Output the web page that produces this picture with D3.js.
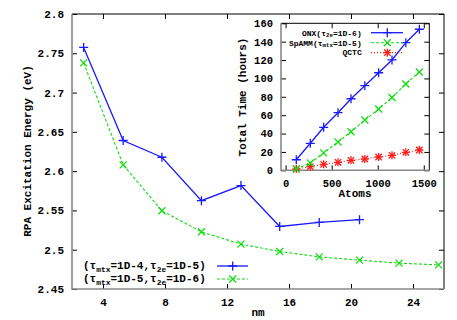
<!DOCTYPE html>
<html>
<head>
<meta charset="utf-8">
<title>RPA excitation energy</title>
<script src="https://cdn.jsdelivr.net/npm/d3@7"></script>
<style>
body { margin: 0; background: #fff; }
text { font-family: 'Liberation Mono', 'DejaVu Sans Mono', monospace; font-weight: bold; fill: #000; }
.tick line { stroke: #000; }
</style>
</head>
<body>
<script>
// main plot: excitation energy vs length
var nmX = [2.75, 5.3, 7.8, 10.35, 12.9, 15.4, 17.95, 20.55, 23.1, 25.65];
var onxE = [2.7575, 2.639, 2.6177, 2.5624, 2.5816, 2.5296, 2.5347, 2.5382];
var spammE = [2.7378, 2.608, 2.5495, 2.5228, 2.5071, 2.4977, 2.4909, 2.4867, 2.4829, 2.4807];
var mainXTicks = [4, 8, 12, 16, 20, 24];
var mainYTicks = [2.45, 2.5, 2.55, 2.6, 2.65, 2.7, 2.75, 2.8];

// inset: total time vs atoms
var atoms = [116, 268, 413, 569, 710, 860, 1010, 1155, 1305, 1452];
var onxT = [11.5, 29.4, 46.8, 62.7, 77.9, 92.1, 106.2, 120.1, 138.9, 153.5];
var spammT = [1.5, 8, 19, 30.8, 42, 54.7, 66.7, 79.2, 93.9, 107];
var qctcT = [1.4, 4, 6.5, 8.7, 10.9, 12.3, 14.5, 16.3, 19.6, 22.1];
var insetXTicks = [0, 500, 1000, 1500];
var insetYTicks = [0, 20, 40, 60, 80, 100, 120, 140, 160];

var blue = "#1a1aff", green = "#11dd11", red = "#ff1a1a";

var svg = d3.select("body").append("svg").attr("width", 457).attr("height", 320);

var x = d3.scaleLinear().domain([2, 26]).range([72, 444]);
var y = d3.scaleLinear().domain([2.45, 2.8]).range([289, 14]);

// markers
function plus(g, cx, cy, s, col) {
  g.append("path").attr("d", "M" + (cx - s) + "," + cy + "H" + (cx + s) + "M" + cx + "," + (cy - s) + "V" + (cy + s))
    .attr("stroke", col).attr("stroke-width", 1.3).attr("fill", "none");
}
function cross(g, cx, cy, s, col) {
  g.append("path").attr("d", "M" + (cx - s) + "," + (cy - s) + "L" + (cx + s) + "," + (cy + s) + "M" + (cx - s) + "," + (cy + s) + "L" + (cx + s) + "," + (cy - s))
    .attr("stroke", col).attr("stroke-width", 1.3).attr("fill", "none");
}
function star(g, cx, cy, s, col) {
  plus(g, cx, cy, s, col);
  cross(g, cx, cy, s * 0.8, col);
}

// border + inward mirrored ticks (gnuplot style)
function frame(g, xs, ys, xt, yt, xfmt, yfmt, fs) {
  var x0 = xs.range()[0], x1 = xs.range()[1], y0 = ys.range()[0], y1 = ys.range()[1];
  var ax = g.append("g").attr("transform", "translate(0," + y0 + ")")
    .call(d3.axisBottom(xs).tickValues(xt).tickSize(-5).tickPadding(9).tickFormat(xfmt));
  var axt = g.append("g").attr("transform", "translate(0," + y1 + ")")
    .call(d3.axisTop(xs).tickValues(xt).tickSize(-5).tickFormat(""));
  var ay = g.append("g").attr("transform", "translate(" + x0 + ",0)")
    .call(d3.axisLeft(ys).tickValues(yt).tickSize(-5).tickPadding(8).tickFormat(yfmt));
  var ayr = g.append("g").attr("transform", "translate(" + x1 + ",0)")
    .call(d3.axisRight(ys).tickValues(yt).tickSize(-5).tickFormat(""));
  [ax, axt, ay, ayr].forEach(function(a) {
    a.select(".domain").remove();
    a.selectAll("text").style("font-size", fs + "px").style("font-family", null);
  });
  g.append("path").attr("d", "M" + x0 + "," + y1 + "H" + x1 + "V" + y0).attr("stroke", "#000").attr("fill", "none");
  g.append("path").attr("d", "M" + x0 + "," + y1 + "V" + y0 + "H" + x1).attr("stroke", "#888").attr("stroke-width", 1.6).attr("fill", "none");
}

var main = svg.append("g");
frame(main, x, y, mainXTicks, mainYTicks, d3.format("d"), function(d) { return String(+d.toFixed(2)); }, 11);

main.append("text").attr("x", 258).attr("y", 316).attr("text-anchor", "middle").style("font-size", "11px").text("nm");
main.append("text").attr("transform", "translate(28,151) rotate(-90)").attr("text-anchor", "middle")
  .attr("dominant-baseline", "central").style("font-size", "11px").text("RPA Excitation Energy (eV)");

var lineMain = d3.line().x(function(d) { return x(d[0]); }).y(function(d) { return y(d[1]); });
var onxPts = onxE.map(function(v, i) { return [nmX[i], v]; });
var spPts = spammE.map(function(v, i) { return [nmX[i], v]; });
main.append("path").attr("d", lineMain(spPts)).attr("fill", "none").attr("stroke", green).attr("stroke-width", 1.1).attr("stroke-dasharray", "3,2");
main.append("path").attr("d", lineMain(onxPts)).attr("fill", "none").attr("stroke", blue).attr("stroke-width", 1.3);
onxPts.forEach(function(p) { plus(main, x(p[0]), y(p[1]), 4.5, blue); });
spPts.forEach(function(p) { cross(main, x(p[0]), y(p[1]), 3.5, green); });

// text with subscripts: parts = [{txt}, {sub, txt}, ...]
function tauLabel(g, tx, ty, anchor, fs, parts) {
  var t = g.append("text").attr("x", tx).attr("y", ty).attr("text-anchor", anchor)
    .attr("dominant-baseline", "central").style("font-size", fs + "px");
  parts.forEach(function(p) {
    if (p.sub) {
      t.append("tspan").attr("dy", fs * 0.3).style("font-size", (fs * 0.72) + "px").text(p.sub);
      t.append("tspan").attr("dy", -fs * 0.3).text(p.txt);
    } else {
      t.append("tspan").text(p.txt);
    }
  });
  return t;
}

// main legend
tauLabel(main, 83, 266, "start", 11, [{txt: "(τ"}, {sub: "mtx", txt: "=1D-4,τ"}, {sub: "2e", txt: "=1D-5)"}]);
tauLabel(main, 83, 279, "start", 11, [{txt: "(τ"}, {sub: "mtx", txt: "=1D-5,τ"}, {sub: "2e", txt: "=1D-6)"}]);
main.append("line").attr("x1", 217).attr("x2", 248).attr("y1", 266).attr("y2", 266).attr("stroke", blue).attr("stroke-width", 1.3);
plus(main, 232.7, 266, 4.5, blue);
main.append("line").attr("x1", 217).attr("x2", 248).attr("y1", 279).attr("y2", 279).attr("stroke", green).attr("stroke-width", 1.1).attr("stroke-dasharray", "3,2");
cross(main, 232.7, 279, 3.5, green);

// inset
var xi = d3.scaleLinear().domain([-50, 1560]).range([281, 429.3]);
var yi = d3.scaleLinear().domain([0, 160]).range([170.3, 23.3]);
var inset = svg.append("g");
inset.append("rect").attr("x", 281).attr("y", 23.3).attr("width", 148.3).attr("height", 147).attr("fill", "#fff");
frame(inset, xi, yi, insetXTicks, insetYTicks, d3.format("d"), d3.format("d"), 10.5);
inset.append("text").attr("x", 355).attr("y", 194).attr("text-anchor", "middle").attr("dominant-baseline", "central").style("font-size", "11px").text("Atoms");
inset.append("text").attr("transform", "translate(242.5,97) rotate(-90)").attr("text-anchor", "middle")
  .attr("dominant-baseline", "central").style("font-size", "11px").text("Total Time (hours)");

var lineIn = d3.line().x(function(d) { return xi(d[0]); }).y(function(d) { return yi(d[1]); });
function series(vals, col, w, dash, mark, s) {
  var pts = vals.map(function(v, i) { return [atoms[i], v]; });
  var p = inset.append("path").attr("d", lineIn(pts)).attr("fill", "none").attr("stroke", col).attr("stroke-width", w);
  if (dash) p.attr("stroke-dasharray", dash);
  pts.forEach(function(q) { mark(inset, xi(q[0]), yi(q[1]), s, col); });
}
series(qctcT, red, 1.2, "1,2", star, 4);
series(spammT, green, 1.1, "3,2", cross, 3.5);
series(onxT, blue, 1.3, null, plus, 4.5);

// inset legend
tauLabel(inset, 361.7, 32.7, "end", 8, [{txt: "ONX(τ"}, {sub: "2e", txt: "=1D-6)"}]);
tauLabel(inset, 361.7, 42.7, "end", 8, [{txt: "SpAMM(τ"}, {sub: "mtx", txt: "=1D-5)"}]);
inset.append("text").attr("x", 361.7).attr("y", 52.7).attr("text-anchor", "end").attr("dominant-baseline", "central").style("font-size", "8px").text("QCTC");
inset.append("line").attr("x1", 371).attr("x2", 403).attr("y1", 32.7).attr("y2", 32.7).attr("stroke", blue).attr("stroke-width", 1.3);
plus(inset, 387.3, 32.7, 4.5, blue);
inset.append("line").attr("x1", 371).attr("x2", 403).attr("y1", 42.7).attr("y2", 42.7).attr("stroke", green).attr("stroke-width", 1.1).attr("stroke-dasharray", "3,2");
cross(inset, 387.3, 42.7, 3.5, green);
inset.append("line").attr("x1", 371).attr("x2", 403).attr("y1", 52.7).attr("y2", 52.7).attr("stroke", red).attr("stroke-width", 1.2).attr("stroke-dasharray", "1,2");
star(inset, 387.3, 52.7, 4, red);
</script>
</body>
</html>
